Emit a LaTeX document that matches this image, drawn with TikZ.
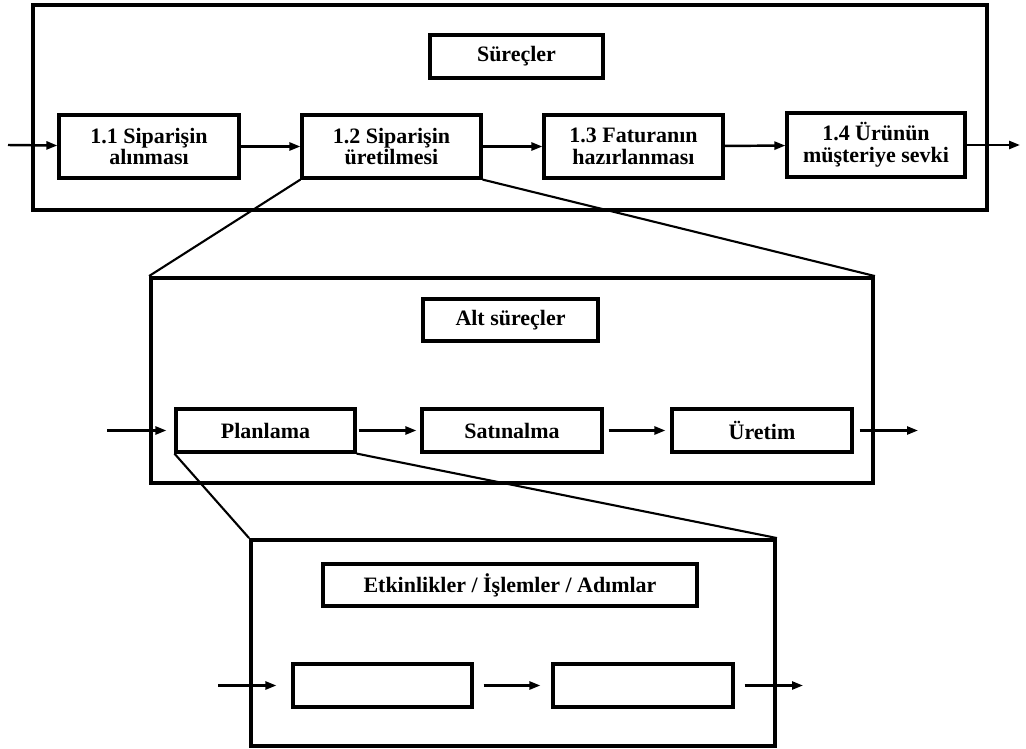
\documentclass[tikz,border=0pt]{standalone}
\usepackage{fontspec}
\setmainfont{Liberation Serif}
\usepackage{tikz}
\usetikzlibrary{arrows.meta}

\begin{document}
\begin{tikzpicture}[
    x=0.2mm, y=-0.2mm,
    frame/.style={rectangle, draw=black, line width=2.2pt, inner sep=0pt},
    box/.style={rectangle, draw=black, line width=1.8pt, align=center, inner sep=0pt, font=\fontsize{12.5}{12.5}\selectfont\bfseries},
    arrow/.style={-{Triangle[length=2.2mm,width=1.6mm]}, line width=1.4pt},
    zoomline/.style={line width=1.2pt}
]
    \useasboundingbox (0,0) rectangle (1026,749);

    % Süreçler
    \node[frame, minimum width=954*0.2mm, minimum height=205*0.2mm] (surecframe) at (510,107.5) {};
    \node[box, minimum width=173*0.2mm, minimum height=43*0.2mm] (surectitle) at (516.5,56.5) {Süreçler};
    \node[box, minimum width=180*0.2mm, minimum height=63*0.2mm] (siparisalma) at (149,146.5) {1.1 Siparişin\\alınması};
    \node[box, minimum width=179*0.2mm, minimum height=63*0.2mm] (siparisuretim) at (391.5,146.5) {1.2 Siparişin\\üretilmesi};
    \node[box, minimum width=179*0.2mm, minimum height=63*0.2mm] (fatura) at (633.5,146.5) {1.3 Faturanın\\hazırlanması};
    \node[box, minimum width=178*0.2mm, minimum height=64*0.2mm] (sevk) at (876,145) {1.4 Ürünün\\müşteriye sevki};
    \coordinate (surecin) at (8,145);
    \coordinate (surecout) at (1020,145);

    % Alt süreçler
    \node[frame, minimum width=722*0.2mm, minimum height=205*0.2mm] (altframe) at (512,380.5) {};
    \node[box, minimum width=175*0.2mm, minimum height=42*0.2mm] (alttitle) at (510.5,320) {Alt süreçler};
    \node[box, minimum width=179*0.2mm, minimum height=43*0.2mm] (planlama) at (265.5,430.5) {Planlama};
    \node[box, minimum width=180*0.2mm, minimum height=43*0.2mm] (satinalma) at (512,430.5) {Satınalma};
    \node[box, minimum width=180*0.2mm, minimum height=43*0.2mm] (uretim) at (762,430.5) {Üretim};
    \coordinate (altin) at (107,430.5);
    \coordinate (altout) at (918,430.5);

    % Etkinlikler
    \node[frame, minimum width=524*0.2mm, minimum height=206*0.2mm] (adimframe) at (513,643) {};
    \node[box, minimum width=374*0.2mm, minimum height=42*0.2mm] (adimtitle) at (510,585) {Etkinlikler / İşlemler / Adımlar};
    \node[box, minimum width=179*0.2mm, minimum height=43*0.2mm] (adimbir) at (382.5,685.5) {};
    \node[box, minimum width=180*0.2mm, minimum height=43*0.2mm] (adimiki) at (643,685.5) {};
    \coordinate (adimin) at (218,685.5);
    \coordinate (adimout) at (803,685.5);

    \draw[arrow] (surecin) -- (siparisalma);
    \draw[arrow] (siparisalma) -- (siparisuretim);
    \draw[arrow] (siparisuretim) -- (fatura);
    \draw[arrow] (fatura) -- (sevk);
    \draw[arrow] (sevk) -- (surecout);

    \draw[arrow, shorten >=1.6mm] (altin) -- (planlama);
    \draw[arrow, shorten <=0.4mm, shorten >=0.8mm] (planlama) -- (satinalma);
    \draw[arrow, shorten <=1mm, shorten >=1mm] (satinalma) -- (uretim);
    \draw[arrow, shorten <=1.2mm] (uretim) -- (altout);

    \draw[arrow, shorten >=3mm] (adimin) -- (adimbir);
    \draw[arrow, shorten <=2mm, shorten >=2.2mm] (adimbir) -- (adimiki);
    \draw[arrow, shorten <=2mm] (adimiki) -- (adimout);

    \draw[zoomline] (siparisuretim.south west) -- (altframe.north west);
    \draw[zoomline] (siparisuretim.south east) -- (altframe.north east);
    \draw[zoomline] (planlama.south west) -- (adimframe.north west);
    \draw[zoomline] (planlama.south east) -- (adimframe.north east);

\end{tikzpicture}
\end{document}
